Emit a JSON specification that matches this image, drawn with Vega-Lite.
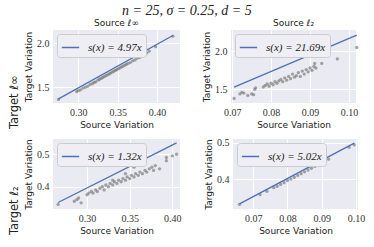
{
  "$schema": "https://vega.github.io/schema/vega-lite/v6.json",
  "padding": {"left": 8, "right": 8, "top": 4, "bottom": 3},
  "background": "white",
  "title": {"text": "n = 25, σ = 0.25, d = 5", "font": "Liberation Serif", "fontSize": 14, "fontWeight": "normal", "fontStyle": "italic", "color": "#222", "offset": 1, "anchor": "middle"},
  "config": {
    "view": {"fill": "#EAEAF2", "stroke": null},
    "axis": {"domain": false, "ticks": false, "grid": true, "gridColor": "white", "gridWidth": 1, "labelFont": "Liberation Serif", "labelFontSize": 10, "labelColor": "#333", "titleFont": "DejaVu Sans", "titleFontSize": 9, "titleFontWeight": "normal", "titleColor": "#222", "labelPadding": 4, "titlePadding": 3},
    "title": {"font": "DejaVu Sans", "fontSize": 9, "fontWeight": "normal", "color": "#222", "offset": 2},
    "legend": {"orient": "top-left", "offset": 4, "fillColor": "#EEEEF4", "strokeColor": "#CCCCCC", "cornerRadius": 3, "padding": 4, "symbolType": "stroke", "symbolSize": 300, "symbolStrokeWidth": 1.5, "labelFont": "Liberation Serif", "labelFontStyle": "italic", "labelFontSize": 11, "labelColor": "#222", "labelOffset": 8, "title": null}
  },
  "datasets": {
    "tl": [
      {"x": 0.275, "y": 1.36}, {"x": 0.298, "y": 1.45}, {"x": 0.300, "y": 1.46}, {"x": 0.303, "y": 1.47}, {"x": 0.306, "y": 1.49}, {"x": 0.309, "y": 1.50}, {"x": 0.312, "y": 1.51}, {"x": 0.315, "y": 1.53}, {"x": 0.318, "y": 1.54}, {"x": 0.320, "y": 1.555}, {"x": 0.322, "y": 1.56}, {"x": 0.325, "y": 1.58}, {"x": 0.327, "y": 1.59}, {"x": 0.329, "y": 1.60}, {"x": 0.331, "y": 1.61}, {"x": 0.333, "y": 1.62}, {"x": 0.335, "y": 1.63}, {"x": 0.337, "y": 1.64}, {"x": 0.339, "y": 1.65}, {"x": 0.341, "y": 1.66}, {"x": 0.343, "y": 1.67}, {"x": 0.345, "y": 1.68}, {"x": 0.347, "y": 1.69}, {"x": 0.349, "y": 1.70}, {"x": 0.351, "y": 1.71}, {"x": 0.353, "y": 1.72}, {"x": 0.355, "y": 1.73}, {"x": 0.357, "y": 1.74}, {"x": 0.359, "y": 1.75}, {"x": 0.361, "y": 1.76}, {"x": 0.363, "y": 1.77}, {"x": 0.366, "y": 1.78}, {"x": 0.369, "y": 1.80}, {"x": 0.372, "y": 1.81}, {"x": 0.375, "y": 1.83}, {"x": 0.378, "y": 1.84}, {"x": 0.381, "y": 1.86}, {"x": 0.384, "y": 1.87}, {"x": 0.387, "y": 1.89}, {"x": 0.390, "y": 1.91}, {"x": 0.398, "y": 1.96}, {"x": 0.420, "y": 2.08}
    ],
    "tl_line": [{"x": 0.275, "y": 1.367, "label": "s(x) = 4.97x"}, {"x": 0.420, "y": 2.087, "label": "s(x) = 4.97x"}],
    "tr": [
      {"x": 0.0705, "y": 1.38}, {"x": 0.072, "y": 1.44}, {"x": 0.0725, "y": 1.46}, {"x": 0.073, "y": 1.45}, {"x": 0.074, "y": 1.42}, {"x": 0.075, "y": 1.44}, {"x": 0.0755, "y": 1.43}, {"x": 0.0758, "y": 1.50}, {"x": 0.076, "y": 1.52}, {"x": 0.078, "y": 1.53}, {"x": 0.0785, "y": 1.55}, {"x": 0.079, "y": 1.57}, {"x": 0.0795, "y": 1.54}, {"x": 0.080, "y": 1.58}, {"x": 0.0805, "y": 1.56}, {"x": 0.081, "y": 1.60}, {"x": 0.0815, "y": 1.58}, {"x": 0.082, "y": 1.61}, {"x": 0.0825, "y": 1.63}, {"x": 0.083, "y": 1.60}, {"x": 0.0835, "y": 1.65}, {"x": 0.084, "y": 1.62}, {"x": 0.0845, "y": 1.67}, {"x": 0.085, "y": 1.64}, {"x": 0.0855, "y": 1.70}, {"x": 0.086, "y": 1.66}, {"x": 0.0865, "y": 1.68}, {"x": 0.087, "y": 1.72}, {"x": 0.0875, "y": 1.67}, {"x": 0.088, "y": 1.74}, {"x": 0.0885, "y": 1.70}, {"x": 0.089, "y": 1.76}, {"x": 0.0895, "y": 1.73}, {"x": 0.090, "y": 1.78}, {"x": 0.0905, "y": 1.75}, {"x": 0.091, "y": 1.80}, {"x": 0.0912, "y": 1.84}, {"x": 0.0915, "y": 1.78}, {"x": 0.093, "y": 1.84}, {"x": 0.097, "y": 1.90}, {"x": 0.102, "y": 2.05}
    ],
    "tr_line": [{"x": 0.0705, "y": 1.529, "label": "s(x) = 21.69x"}, {"x": 0.102, "y": 2.212, "label": "s(x) = 21.69x"}],
    "bl": [
      {"x": 0.266, "y": 0.345}, {"x": 0.285, "y": 0.355}, {"x": 0.288, "y": 0.36}, {"x": 0.290, "y": 0.365}, {"x": 0.293, "y": 0.35}, {"x": 0.300, "y": 0.375}, {"x": 0.302, "y": 0.38}, {"x": 0.305, "y": 0.385}, {"x": 0.307, "y": 0.38}, {"x": 0.310, "y": 0.39}, {"x": 0.312, "y": 0.385}, {"x": 0.315, "y": 0.395}, {"x": 0.318, "y": 0.40}, {"x": 0.320, "y": 0.39}, {"x": 0.322, "y": 0.405}, {"x": 0.325, "y": 0.40}, {"x": 0.327, "y": 0.41}, {"x": 0.330, "y": 0.405}, {"x": 0.330, "y": 0.42}, {"x": 0.332, "y": 0.415}, {"x": 0.335, "y": 0.41}, {"x": 0.337, "y": 0.42}, {"x": 0.340, "y": 0.415}, {"x": 0.342, "y": 0.425}, {"x": 0.345, "y": 0.42}, {"x": 0.345, "y": 0.44}, {"x": 0.347, "y": 0.43}, {"x": 0.350, "y": 0.425}, {"x": 0.352, "y": 0.435}, {"x": 0.355, "y": 0.43}, {"x": 0.355, "y": 0.46}, {"x": 0.357, "y": 0.44}, {"x": 0.360, "y": 0.435}, {"x": 0.360, "y": 0.47}, {"x": 0.362, "y": 0.445}, {"x": 0.365, "y": 0.44}, {"x": 0.368, "y": 0.45}, {"x": 0.370, "y": 0.445}, {"x": 0.373, "y": 0.455}, {"x": 0.376, "y": 0.46}, {"x": 0.378, "y": 0.45}, {"x": 0.380, "y": 0.465}, {"x": 0.385, "y": 0.455}, {"x": 0.393, "y": 0.49}, {"x": 0.393, "y": 0.48}, {"x": 0.400, "y": 0.495}, {"x": 0.405, "y": 0.50}
    ],
    "bl_line": [{"x": 0.266, "y": 0.351, "label": "s(x) = 1.32x"}, {"x": 0.405, "y": 0.535, "label": "s(x) = 1.32x"}],
    "br": [
      {"x": 0.066, "y": 0.33}, {"x": 0.072, "y": 0.357}, {"x": 0.074, "y": 0.366}, {"x": 0.076, "y": 0.376}, {"x": 0.077, "y": 0.38}, {"x": 0.078, "y": 0.385}, {"x": 0.079, "y": 0.39}, {"x": 0.080, "y": 0.396}, {"x": 0.081, "y": 0.40}, {"x": 0.082, "y": 0.405}, {"x": 0.083, "y": 0.41}, {"x": 0.084, "y": 0.415}, {"x": 0.085, "y": 0.42}, {"x": 0.086, "y": 0.425}, {"x": 0.087, "y": 0.43}, {"x": 0.088, "y": 0.435}, {"x": 0.089, "y": 0.44}, {"x": 0.090, "y": 0.445}, {"x": 0.091, "y": 0.45}, {"x": 0.092, "y": 0.455}, {"x": 0.098, "y": 0.488}, {"x": 0.0995, "y": 0.495}
    ],
    "br_line": [{"x": 0.066, "y": 0.331, "label": "s(x) = 5.02x"}, {"x": 0.0995, "y": 0.4995, "label": "s(x) = 5.02x"}]
  },
  "vconcat": [
    {
      "title": {"text": "Target ℓ∞", "orient": "left", "fontSize": 11.5, "font": "DejaVu Sans", "fontWeight": "normal", "offset": 4},
      "spacing": 22,
      "hconcat": [
        {
          "width": 127, "height": 73,
          "title": "Source ℓ∞",
          "layer": [
            {"data": {"name": "tl"}, "mark": {"type": "circle", "size": 11, "color": "#777777", "opacity": 0.65},
             "encoding": {
               "x": {"field": "x", "type": "quantitative", "scale": {"domain": [0.268, 0.429], "nice": false, "zero": false}, "axis": {"values": [0.30, 0.35, 0.40], "format": ".2f", "title": "Source Variation", "labelFont": "Liberation Serif"}},
               "y": {"field": "y", "type": "quantitative", "scale": {"domain": [1.32, 2.15], "nice": false, "zero": false}, "axis": {"values": [1.5, 2.0], "format": ".1f", "title": "Target Variation", "labelFont": "Liberation Serif"}}}},
            {"data": {"name": "tl_line"}, "mark": {"type": "line", "strokeWidth": 1.3},
             "encoding": {
               "x": {"field": "x", "type": "quantitative"},
               "y": {"field": "y", "type": "quantitative"},
               "color": {"field": "label", "type": "nominal", "scale": {"range": ["#4C72B0"]}, "legend": {"labelFont": "Liberation Serif", "labelFontStyle": "italic"}}}}
          ]
        },
        {
          "width": 125, "height": 73,
          "title": "Source ℓ₂",
          "layer": [
            {"data": {"name": "tr"}, "mark": {"type": "circle", "size": 11, "color": "#777777", "opacity": 0.65},
             "encoding": {
               "x": {"field": "x", "type": "quantitative", "scale": {"domain": [0.0697, 0.1018], "nice": false, "zero": false}, "axis": {"values": [0.07, 0.08, 0.09, 0.10], "format": ".2f", "title": "Source Variation", "labelFont": "Liberation Serif"}},
               "y": {"field": "y", "type": "quantitative", "scale": {"domain": [1.32, 2.28], "nice": false, "zero": false}, "axis": {"values": [1.5, 2.0], "format": ".1f", "title": "Target Variation", "labelFont": "Liberation Serif"}}}},
            {"data": {"name": "tr_line"}, "mark": {"type": "line", "strokeWidth": 1.3},
             "encoding": {
               "x": {"field": "x", "type": "quantitative"},
               "y": {"field": "y", "type": "quantitative"},
               "color": {"field": "label", "type": "nominal", "scale": {"range": ["#4C72B0"]}, "legend": {"labelFont": "Liberation Serif", "labelFontStyle": "italic"}}}}
          ]
        }
      ],
      "resolve": {"scale": {"color": "independent"}, "legend": {"color": "independent"}}
    },
    {
      "title": {"text": "Target ℓ₂", "orient": "left", "fontSize": 11.5, "font": "DejaVu Sans", "fontWeight": "normal", "offset": 4},
      "spacing": 22,
      "hconcat": [
        {
          "width": 127, "height": 70,
          "layer": [
            {"data": {"name": "bl"}, "mark": {"type": "circle", "size": 11, "color": "#777777", "opacity": 0.65},
             "encoding": {
               "x": {"field": "x", "type": "quantitative", "scale": {"domain": [0.26, 0.409], "nice": false, "zero": false}, "axis": {"values": [0.30, 0.35, 0.40], "format": ".2f", "title": "Source Variation", "labelFont": "Liberation Serif"}},
               "y": {"field": "y", "type": "quantitative", "scale": {"domain": [0.331, 0.547], "nice": false, "zero": false}, "axis": {"values": [0.4, 0.5], "format": ".1f", "title": "Target Variation", "labelFont": "Liberation Serif"}}}},
            {"data": {"name": "bl_line"}, "mark": {"type": "line", "strokeWidth": 1.3},
             "encoding": {
               "x": {"field": "x", "type": "quantitative"},
               "y": {"field": "y", "type": "quantitative"},
               "color": {"field": "label", "type": "nominal", "scale": {"range": ["#4C72B0"]}, "legend": {"labelFont": "Liberation Serif", "labelFontStyle": "italic"}}}}
          ]
        },
        {
          "width": 125, "height": 70,
          "layer": [
            {"data": {"name": "br"}, "mark": {"type": "circle", "size": 11, "color": "#777777", "opacity": 0.65},
             "encoding": {
               "x": {"field": "x", "type": "quantitative", "scale": {"domain": [0.0641, 0.1006], "nice": false, "zero": false}, "axis": {"values": [0.07, 0.08, 0.09, 0.10], "format": ".2f", "title": "Source Variation", "labelFont": "Liberation Serif"}},
               "y": {"field": "y", "type": "quantitative", "scale": {"domain": [0.317, 0.511], "nice": false, "zero": false}, "axis": {"values": [0.4, 0.5], "format": ".1f", "title": "Target Variation", "labelFont": "Liberation Serif"}}}},
            {"data": {"name": "br_line"}, "mark": {"type": "line", "strokeWidth": 1.3},
             "encoding": {
               "x": {"field": "x", "type": "quantitative"},
               "y": {"field": "y", "type": "quantitative"},
               "color": {"field": "label", "type": "nominal", "scale": {"range": ["#4C72B0"]}, "legend": {"labelFont": "Liberation Serif", "labelFontStyle": "italic"}}}}
          ]
        }
      ],
      "resolve": {"scale": {"color": "independent"}, "legend": {"color": "independent"}}
    }
  ],
  "spacing": 8,
  "resolve": {"scale": {"color": "independent"}, "legend": {"color": "independent"}}
}
